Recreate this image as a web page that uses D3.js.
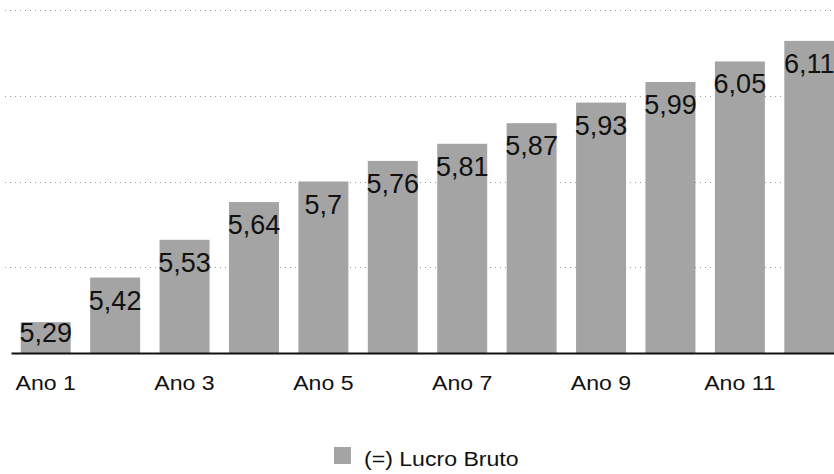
<!DOCTYPE html>
<html>
<head>
<meta charset="utf-8">
<script src="https://cdn.jsdelivr.net/npm/d3@7"></script>
<style>
  body { margin: 0; background: #fff; }
  text { font-family: "Liberation Sans", Arial, Helvetica, sans-serif; fill: #111; }
</style>
</head>
<body>
<div id="chart"></div>
<script>
const anos = ["Ano 1", "Ano 2", "Ano 3", "Ano 4", "Ano 5", "Ano 6", "Ano 7", "Ano 8", "Ano 9", "Ano 10", "Ano 11", "Ano 12"];
const lucroBruto = [5.29, 5.42, 5.53, 5.64, 5.7, 5.76, 5.81, 5.87, 5.93, 5.99, 6.05, 6.11];
const yTicks = [5.2, 5.45, 5.7, 5.95, 6.2];
const xLabels = ["Ano 1", "Ano 3", "Ano 5", "Ano 7", "Ano 9", "Ano 11"];
const serieNome = "(=) Lucro Bruto";

const width = 834;
const height = 474;
const barColor = "#a4a4a4";

const svg = d3.select("#chart")
    .append("svg")
    .attr("width", width)
    .attr("height", height);

const x = d3.scaleBand().domain(anos).range([11, 844]).paddingInner(0.28).paddingOuter(0.14);
const y = d3.scaleLinear().domain([5.2, 6.2]).range([353, 10]);

// dotted gridlines
svg.selectAll(".grid")
    .data(yTicks.slice(1))
    .enter()
    .append("line")
    .attr("class", "grid")
    .attr("x1", 5)
    .attr("x2", width)
    .attr("y1", d => Math.round(y(d)) + 0.5)
    .attr("y2", d => Math.round(y(d)) + 0.5)
    .attr("stroke", "#9a9a9a")
    .attr("stroke-width", 1)
    .attr("stroke-dasharray", "1,4");

// bars
svg.selectAll(".bar")
    .data(lucroBruto)
    .enter()
    .append("rect")
    .attr("class", "bar")
    .attr("x", (d, i) => x(anos[i]))
    .attr("y", d => y(d))
    .attr("width", x.bandwidth())
    .attr("height", d => y(5.2) - y(d))
    .attr("fill", barColor);

// value labels inside the bar tops
svg.selectAll(".bar-label")
    .data(lucroBruto)
    .enter()
    .append("text")
    .attr("class", "bar-label")
    .attr("x", (d, i) => x(anos[i]) + x.bandwidth() / 2)
    .attr("y", d => Math.min(y(d) + 32, y(5.2) - 11))
    .attr("text-anchor", "middle")
    .style("font-size", "27px")
    .text(d => String(d).replace(".", ","));

// x axis (baseline + odd-year labels)
const xAxis = d3.axisBottom(x).tickValues(xLabels).tickSize(0).tickSizeOuter(0).tickPadding(0);
const gx = svg.append("g")
    .attr("transform", `translate(0,${y(5.2)})`)
    .call(xAxis);
gx.select(".domain").attr("stroke", "#111").attr("stroke-width", 2.2);
gx.selectAll(".tick text")
    .attr("y", 0)
    .attr("dy", 0)
    .attr("transform", "translate(0,37) scale(1.1,1)")
    .style("font-size", "21px")
    .style("font-family", "'Liberation Sans', Arial, sans-serif")
    .attr("fill", "#111");

// legend
const legendX = 334;
const legendY = 447;
svg.append("rect")
    .attr("x", legendX)
    .attr("y", legendY)
    .attr("width", 17)
    .attr("height", 17)
    .attr("fill", barColor);

svg.append("text")
    .attr("transform", `translate(${legendX + 30},${legendY + 19}) scale(1.1,1)`)
    .style("font-size", "21px")
    .text(serieNome);
</script>
</body>
</html>
